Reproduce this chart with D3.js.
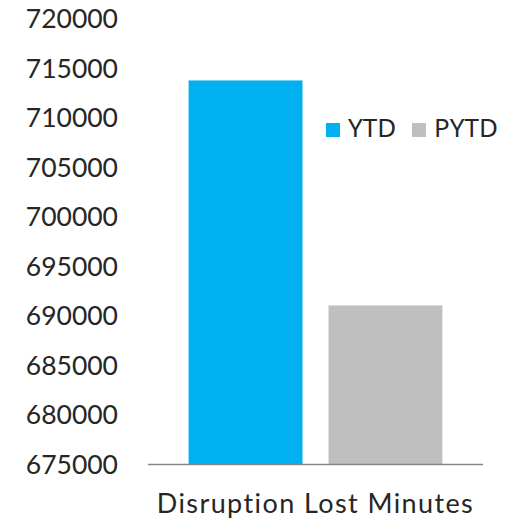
<!DOCTYPE html>
<meta charset="utf-8">
<style>
body { margin: 0; background: #fff; }
.tick-label { font-family: "Lato", sans-serif; font-size: 26.5px; fill: #262626; }
.cat-label { font-family: "Lato", sans-serif; font-size: 27px; fill: #262626; letter-spacing: 1.4px; font-variant-ligatures: none; }
.legend text { font-family: "Noto Sans", sans-serif; font-size: 26px; fill: #262626; }
</style>
<body>
<script src="https://cdnjs.cloudflare.com/ajax/libs/d3/7.8.5/d3.min.js"></script>
<script>

var categories = ["Disruption Lost Minutes"];
var seriesNames = ["YTD", "PYTD"];
var ytdValues = [713700];
var pytdValues = [691000];
var tickValues = [675000, 680000, 685000, 690000, 695000, 700000, 705000, 710000, 715000, 720000];

var colors = {YTD: "#00b0f0", PYTD: "#bfbfbf"};

var width = 509, height = 528;
var plot = {left: 148, right: 483, top: 18, bottom: 464};

var rows = categories.map(function(c, i) {
  return {cat: c, YTD: ytdValues[i], PYTD: pytdValues[i]};
});

var svg = d3.select("body").append("svg")
    .attr("width", width)
    .attr("height", height);

var y = d3.scaleLinear()
    .domain([675000, 720000])
    .range([plot.bottom, plot.top]);

var x0 = d3.scaleBand()
    .domain(categories)
    .range([plot.left, plot.right])
    .paddingInner(0)
    .paddingOuter(0.16);

var x1 = d3.scaleBand()
    .domain(seriesNames)
    .range([0, x0.bandwidth()])
    .paddingInner(0.186)
    .paddingOuter(0);

// bars
var groups = svg.selectAll("g.group")
    .data(rows)
  .enter().append("g")
    .attr("class", "group")
    .attr("transform", function(d) { return "translate(" + x0(d.cat) + ",0)"; });

groups.selectAll("rect")
    .data(function(d) { return seriesNames.map(function(s) { return {key: s, value: d[s]}; }); })
  .enter().append("rect")
    .attr("x", function(d) { return x1(d.key); })
    .attr("width", x1.bandwidth())
    .attr("y", function(d) { return y(d.value); })
    .attr("height", function(d) { return y(675000) - y(d.value); })
    .attr("fill", function(d) { return colors[d.key]; });

// y axis labels (no line, no ticks)
var yAxis = d3.axisLeft(y)
    .tickValues(tickValues)
    .tickFormat(d3.format("d"))
    .tickSize(0)
    .tickPadding(0);

var yg = svg.append("g")
    .attr("transform", "translate(118,1)")
    .call(yAxis);
yg.select(".domain").remove();
yg.selectAll("text")
    .attr("class", "tick-label")
    .attr("font-family", null)
    .attr("font-size", null)
    .attr("fill", null);

// x axis baseline and category label
var xAxis = d3.axisBottom(x0).tickSize(0).tickPadding(0);
var xg = svg.append("g")
    .attr("transform", "translate(0," + plot.bottom + ")")
    .call(xAxis);
xg.select(".domain")
    .attr("d", "M" + plot.left + ",0.5H" + plot.right)
    .attr("stroke", "#868686")
    .attr("stroke-width", 1.5);
xg.selectAll(".tick text")
    .attr("class", "cat-label")
    .attr("font-family", null)
    .attr("font-size", null)
    .attr("fill", null)
    .attr("dy", null)
    .attr("y", 49);

// legend
var legend = svg.append("g")
    .attr("class", "legend")
    .attr("transform", "translate(326,123)");

var legendX = {YTD: 0, PYTD: 86};

var items = legend.selectAll("g")
    .data(seriesNames)
  .enter().append("g")
    .attr("transform", function(d) { return "translate(" + legendX[d] + ",0)"; });

items.append("rect")
    .attr("width", 14)
    .attr("height", 14)
    .attr("fill", function(d) { return colors[d]; });

items.append("text")
    .attr("x", 22)
    .attr("y", 14)
    .text(function(d) { return d; });

</script>
